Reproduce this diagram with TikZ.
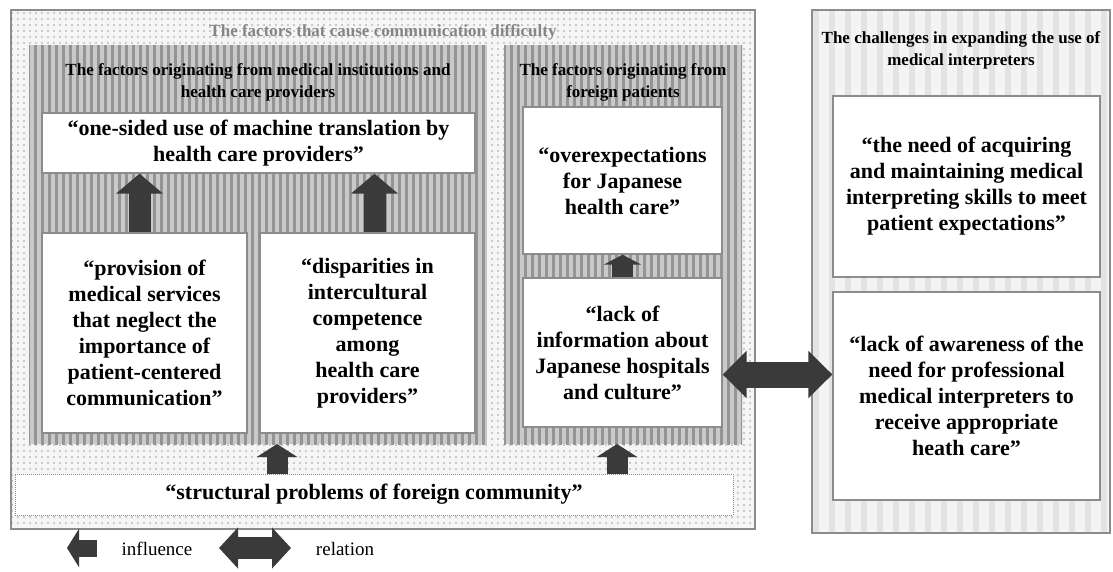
\documentclass[tikz,border=0pt]{standalone}
\usepackage{fontspec}
\setmainfont{Liberation Serif}
\usetikzlibrary{arrows.meta,patterns.meta,calc}

\definecolor{arrowgray}{HTML}{3A3A3A}
\definecolor{framegray}{HTML}{8C8C8C}

\tikzset{
  txtbox/.style={draw=framegray, line width=1.3pt, fill=white, align=center,
    inner sep=0pt, font=\bfseries\fontsize{22}{26}\selectfont},
  paneltitle/.style={align=center, inner sep=0pt,
    font=\bfseries\fontsize{17}{22}\selectfont},
  dotpanel/.style={draw=framegray, line width=1.2pt, preaction={fill=gray!8},
    pattern={Dots[distance=6pt, radius=0.8pt]}, pattern color=black!38},
  stripepanel/.style={preaction={fill=gray!42},
    pattern={Lines[angle=90, distance=7pt, line width=3pt]}, pattern color=black!42},
  lightpanel/.style={draw=framegray, line width=1.2pt, preaction={fill=gray!9},
    pattern={Lines[angle=90, distance=16pt, line width=6pt]}, pattern color=gray!22},
  influence/.style n args={3}{draw=arrowgray, line width=#1,
    -{Triangle[length=#2, width=#3]}},
  relation/.style n args={3}{draw=arrowgray, line width=#1,
    {Triangle[length=#2, width=#3]}-{Triangle[length=#2, width=#3]}}
}

\begin{document}
\begin{tikzpicture}[x=1pt, y=-1pt]
  \useasboundingbox (0,0) rectangle (1113,571);

  % panels
  \node[dotpanel, minimum width=744, minimum height=519] (causes) at (383,269.5) {};
  \node[font=\bfseries\fontsize{17}{20}\selectfont, text=black!48, inner sep=0pt]
    (causes-t) at (383,32) {The factors that cause communication difficulty};
  \node[stripepanel, minimum width=458, minimum height=399] (medpanel) at (258,244.5) {};
  \node[paneltitle] (medpanel-t) at (258,82)
    {The factors originating from medical institutions and\\health care providers};
  \node[stripepanel, minimum width=238, minimum height=399] (forpanel) at (623,244.5) {};
  \node[paneltitle] (forpanel-t) at (623,82)
    {The factors originating from\\foreign patients};
  \node[lightpanel, minimum width=298, minimum height=523] (chalpanel) at (961,271.5) {};
  \node[paneltitle] (chalpanel-t) at (961,50)
    {The challenges in expanding the use of\\medical interpreters};

  % statements
  \node[txtbox, minimum width=433, minimum height=60] (onesided) at (258.5,143)
    {“one-sided use of machine translation by\\health care providers”};
  \node[txtbox, minimum width=205, minimum height=200] (provision) at (144.5,333)
    {“provision of\\medical services\\that neglect the\\importance of\\patient-centered\\communication”};
  \node[txtbox, minimum width=215, minimum height=200] (disparity) at (367.5,333)
    {“disparities in\\intercultural\\competence\\among\\health care\\providers”};
  \node[txtbox, minimum width=199, minimum height=147] (overexp) at (622.5,180.5)
    {“overexpectations\\for Japanese\\health care”};
  \node[txtbox, minimum width=199, minimum height=149] (lackinfo) at (622.5,352.5)
    {“lack of\\information about\\Japanese hospitals\\and culture”};
  \node[txtbox, minimum width=267, minimum height=181] (skills) at (966.5,186.5)
    {“the need of acquiring\\and maintaining medical\\interpreting skills to meet\\patient expectations”};
  \node[txtbox, minimum width=267, minimum height=208] (awareness) at (966.5,396)
    {“lack of awareness of the\\need for professional\\medical interpreters to\\receive appropriate\\heath care”};
  \node[txtbox, line width=1pt, densely dotted, minimum width=718, minimum height=41]
    (structural) at (374,494.5) {“structural problems of foreign community”};

  % influences
  \draw[influence={22pt}{20pt}{46pt}] ([xshift=-5pt]provision.north) -- ([xshift=-5pt]provision.north |- onesided.south);
  \draw[influence={22pt}{20pt}{46pt}] ([xshift=7pt]disparity.north) -- ([xshift=7pt]disparity.north |- onesided.south);
  \draw[influence={21pt}{10pt}{37pt}] (lackinfo.north) -- (overexp.south);
  \coordinate (hitmed) at (277,444);
  \coordinate (hitfor) at (617,444);
  \draw[influence={21pt}{13pt}{40pt}] (structural.north -| hitmed) -- (hitmed);
  \draw[influence={21pt}{13pt}{40pt}] (structural.north -| hitfor) -- (hitfor);

  % relation
  \draw[relation={26pt}{24pt}{46pt}] ([yshift=-22pt]lackinfo.east) -- ([yshift=-22pt]lackinfo.east -| awareness.west);

  % legend
  \coordinate (infl-a) at (97,548);
  \coordinate (infl-b) at (67,548);
  \draw[influence={17pt}{12pt}{38pt}] (infl-a) -- (infl-b);
  \node[font=\fontsize{19}{22}\selectfont, inner sep=0pt] (infl-t) at (157,549) {influence};
  \coordinate (rel-a) at (219,548);
  \coordinate (rel-b) at (291,548);
  \draw[relation={22pt}{19pt}{40pt}] (rel-a) -- (rel-b);
  \node[font=\fontsize{19}{22}\selectfont, inner sep=0pt] (rel-t) at (345,549) {relation};
\end{tikzpicture}
\end{document}
